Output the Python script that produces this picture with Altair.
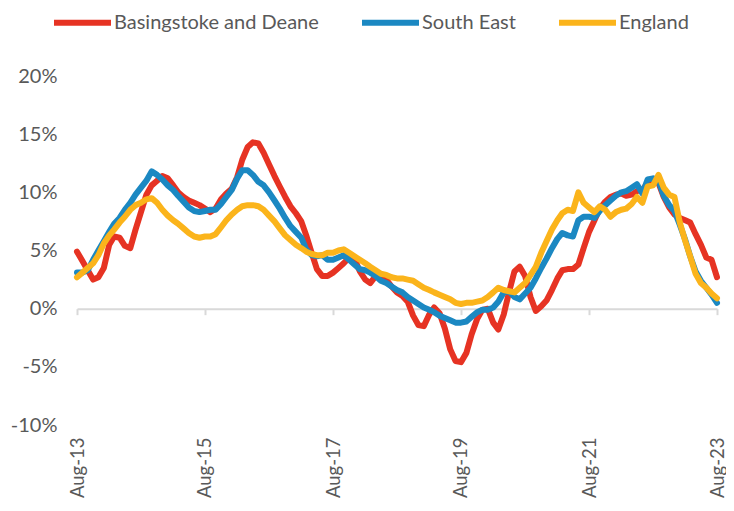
import altair as alt
import pandas as pd

months = pd.date_range("2013-08-01", "2023-08-01", freq="MS").strftime("%Y-%m-%dT00:00:00").tolist()

basingstoke = [
    4.9, 4.1, 3.3, 2.5, 2.7, 3.5, 5.5, 6.2, 6.1, 5.4, 5.2, 6.8, 8.3, 9.8, 10.6, 11.0, 11.4, 11.2, 10.6, 10.0,
    9.6, 9.3, 9.1, 8.9, 8.6, 8.3, 8.6, 9.4, 9.9, 10.3, 11.3, 12.8, 13.9, 14.3, 14.2, 13.4, 12.4, 11.4, 10.5, 9.6,
    8.8, 8.2, 7.5, 6.3, 4.8, 3.4, 2.8, 2.8, 3.1, 3.5, 3.9, 4.4, 4.3, 3.2, 2.5, 2.2, 2.8, 2.8, 2.5, 1.9,
    1.4, 1.1, 0.6, -0.6, -1.4, -1.5, -0.5, 0.1, -0.4, -1.7, -3.5, -4.5, -4.6, -3.8, -2.2, -0.9, -0.1, 0.0, -1.2, -1.8,
    -0.5, 1.4, 3.2, 3.6, 2.8, 1.0, -0.2, 0.2, 0.7, 1.6, 2.6, 3.3, 3.4, 3.4, 3.8, 5.2, 6.6, 7.6, 8.6, 9.2,
    9.6, 9.8, 9.9, 9.7, 9.8, 10.1, 10.2, 10.8, 11.1, 10.8, 9.6, 8.7, 8.1, 7.8, 7.6, 7.4, 6.4, 5.5, 4.4, 4.2,
    2.7,
]
south_east = [
    3.1, 3.1, 3.3, 4.2, 5.0, 5.8, 6.6, 7.3, 7.8, 8.5, 9.1, 9.8, 10.4, 11.0, 11.8, 11.5, 11.1, 10.6, 10.2, 9.7,
    9.2, 8.7, 8.4, 8.3, 8.4, 8.5, 8.5, 9.0, 9.6, 10.2, 11.2, 11.9, 11.9, 11.5, 10.9, 10.6, 10.0, 9.3, 8.6, 7.8,
    7.1, 6.6, 6.1, 5.1, 4.6, 4.5, 4.6, 4.2, 4.2, 4.4, 4.6, 4.2, 3.8, 3.4, 3.3, 3.1, 2.8, 2.4, 2.2, 1.9,
    1.6, 1.4, 1.0, 0.7, 0.4, 0.1, -0.1, -0.3, -0.6, -0.8, -1.0, -1.2, -1.2, -1.1, -0.7, -0.3, -0.1, -0.1, 0.1, 0.6,
    1.4, 1.5, 1.0, 0.8, 1.3, 1.8, 2.6, 3.5, 4.3, 5.2, 6.0, 6.5, 6.3, 6.2, 7.6, 7.9, 7.9, 7.8, 8.4, 8.9,
    9.3, 9.7, 10.0, 10.1, 10.4, 10.7, 9.9, 11.1, 11.2, 11.0, 9.7, 8.9, 8.4, 7.2, 5.9, 4.5, 3.2, 2.4, 1.8, 1.2,
    0.5,
]
england = [
    2.7, 3.1, 3.5, 3.9, 4.6, 5.6, 6.3, 6.8, 7.4, 7.9, 8.5, 8.9, 9.1, 9.4, 9.5, 9.1, 8.5, 8.0, 7.6, 7.3,
    6.9, 6.5, 6.2, 6.1, 6.2, 6.2, 6.4, 7.0, 7.6, 8.1, 8.5, 8.8, 8.9, 8.9, 8.8, 8.5, 8.0, 7.5, 6.9, 6.3,
    5.9, 5.5, 5.2, 4.9, 4.7, 4.6, 4.6, 4.8, 4.8, 5.0, 5.1, 4.8, 4.5, 4.2, 3.9, 3.6, 3.3, 3.0, 2.9, 2.7,
    2.6, 2.6, 2.5, 2.4, 2.1, 1.8, 1.6, 1.4, 1.2, 1.0, 0.8, 0.5, 0.4, 0.5, 0.5, 0.6, 0.7, 1.0, 1.4, 1.8,
    1.6, 1.5, 1.4, 1.8, 2.2, 2.9, 3.6, 4.8, 5.8, 6.8, 7.6, 8.2, 8.5, 8.4, 10.0, 9.1, 8.7, 8.3, 8.8, 8.5,
    7.9, 8.3, 8.5, 8.6, 9.0, 9.6, 9.1, 10.5, 10.6, 11.5, 10.4, 9.8, 9.6, 7.4, 5.8, 4.5, 3.0, 2.2, 1.8, 1.3,
    0.9,
]

series_names = ["Basingstoke and Deane", "South East", "England"]
series_colors = ["#E63323", "#1B88C2", "#FBB41B"]
y_ticks = [-10, -5, 0, 5, 10, 15, 20]
tick_years = [2013, 2015, 2017, 2019, 2021, 2023]

rows = []
for name, vals in zip(series_names, [basingstoke, south_east, england]):
    for m, v in zip(months, vals):
        rows.append({"date": m, "series": name, "value": v})
df = pd.DataFrame(rows)

FONT = "Lato"
GREY = "#595959"
tick_dates = [alt.DateTime(year=y, month=8, date=1) for y in tick_years]
x_scale = alt.Scale(domain=[alt.DateTime(year=2013, month=8, date=1),
                            alt.DateTime(year=2023, month=8, date=1)], nice=False)
y_scale = alt.Scale(domain=[-10, 20], nice=False, zero=False)
y_axis = alt.Axis(values=y_ticks, labelExpr="datum.value + '%'", domain=False, ticks=False,
                  tickSize=0, grid=False, labelFont=FONT, labelFontSize=20, labelColor=GREY,
                  labelPadding=20, title=None)

base = alt.Chart(df)

lines = base.mark_line(strokeWidth=6, strokeCap="round", strokeJoin="round").encode(
    x=alt.X("date:T", scale=x_scale,
            axis=alt.Axis(orient="bottom", values=tick_dates, format="%b-%y", labelAngle=-90,
                          labelPadding=12, domain=False, ticks=False, tickSize=0, grid=False,
                          labelFont=FONT, labelFontSize=18.5, labelColor=GREY, title=None,
                          labelOverlap=False, labelBound=False)),
    y=alt.Y("value:Q", scale=y_scale, axis=y_axis),
    color=alt.Color("series:N", scale=alt.Scale(domain=series_names, range=series_colors),
                    legend=alt.Legend(title=None, orient="none", legendX=-26, legendY=-85,
                                      direction="horizontal", symbolType="stroke", symbolSize=3249,
                                      symbolStrokeWidth=6, labelFont=FONT, labelFontSize=20,
                                      labelColor=GREY, columnPadding=31, labelOffset=0,
                                      labelLimit=400)),
)

zero_axis = base.mark_line(opacity=0).encode(
    x=alt.X("date:T", scale=x_scale,
            axis=alt.Axis(orient="bottom", values=tick_dates, labels=False, domain=True,
                          domainColor="#D9D9D9", domainWidth=2, ticks=True, tickColor="#D9D9D9",
                          tickWidth=2, tickSize=6, grid=False, offset=-116.33, title=None)),
    y=alt.Y("value:Q", scale=y_scale, axis=y_axis),
    detail="series:N",
)

chart = alt.layer(zero_axis, lines).resolve_axis(x="independent").properties(
    width=640, height=349,
    padding={"left": 69, "top": 68, "right": 9, "bottom": 78},
    autosize=alt.AutoSizeParams(type="none"),
).configure_view(stroke=None)

chart.save("out.html", embed_options={"renderer": "svg", "actions": False})
